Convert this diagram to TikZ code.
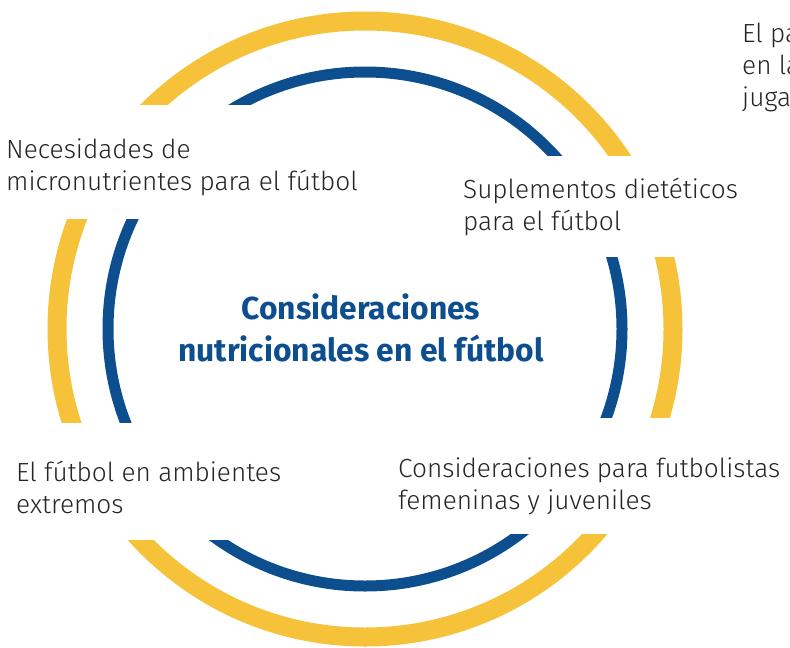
\documentclass[tikz,border=0pt]{standalone}
\usepackage{fontspec}
\setmainfont{Fira Sans Light}[BoldFont={Fira Sans Bold}]
\definecolor{ringyellow}{HTML}{F6C23A}
\definecolor{ringblue}{HTML}{0C4E8E}
\definecolor{textgray}{HTML}{262425}
\begin{document}
\begin{tikzpicture}[
        x=1pt, y=-1pt,
        yellowring/.style={draw=ringyellow, line width=19pt},
        bluering/.style={draw=ringblue, line width=11pt},
        gap/.style={fill=white},
        topic/.style={anchor=base west, align=left, inner sep=0pt, text=textgray,
            font=\fontsize{26.2}{32}\selectfont},
        centre/.style={align=center, inner sep=0pt, text=ringblue,
            font=\bfseries\fontsize{31.8}{42}\selectfont}
    ]
    \useasboundingbox (0,0) rectangle (790,648);
    \coordinate (O) at (365,329);
    \draw[yellowring] (O) circle[radius=308];
    \draw[bluering] (O) circle[radius=257];

    \fill[gap] (0,105) rectangle (365,219);
    \fill[gap] (365,156) rectangle (790,257);
    \fill[gap] (0,423) rectangle (365,540);
    \fill[gap] (365,418) rectangle (790,534);

    \node[centre] (title) at (361,328) {Consideraciones\\nutricionales en el fútbol};

    \node[topic] (micro) at (6,190) {Necesidades de\\micronutrientes para el fútbol};
    \node[topic] (supl) at (463,230) {Suplementos dietéticos\\para el fútbol};
    \node[topic] (amb) at (16,513) {El fútbol en ambientes\\extremos};
    \node[topic] (fem) at (398,509) {Consideraciones para futbolistas\\femeninas y juveniles};
    \node[topic] (pa) at (742,106) {El pa\\en la\\juga};
\end{tikzpicture}
\end{document}
